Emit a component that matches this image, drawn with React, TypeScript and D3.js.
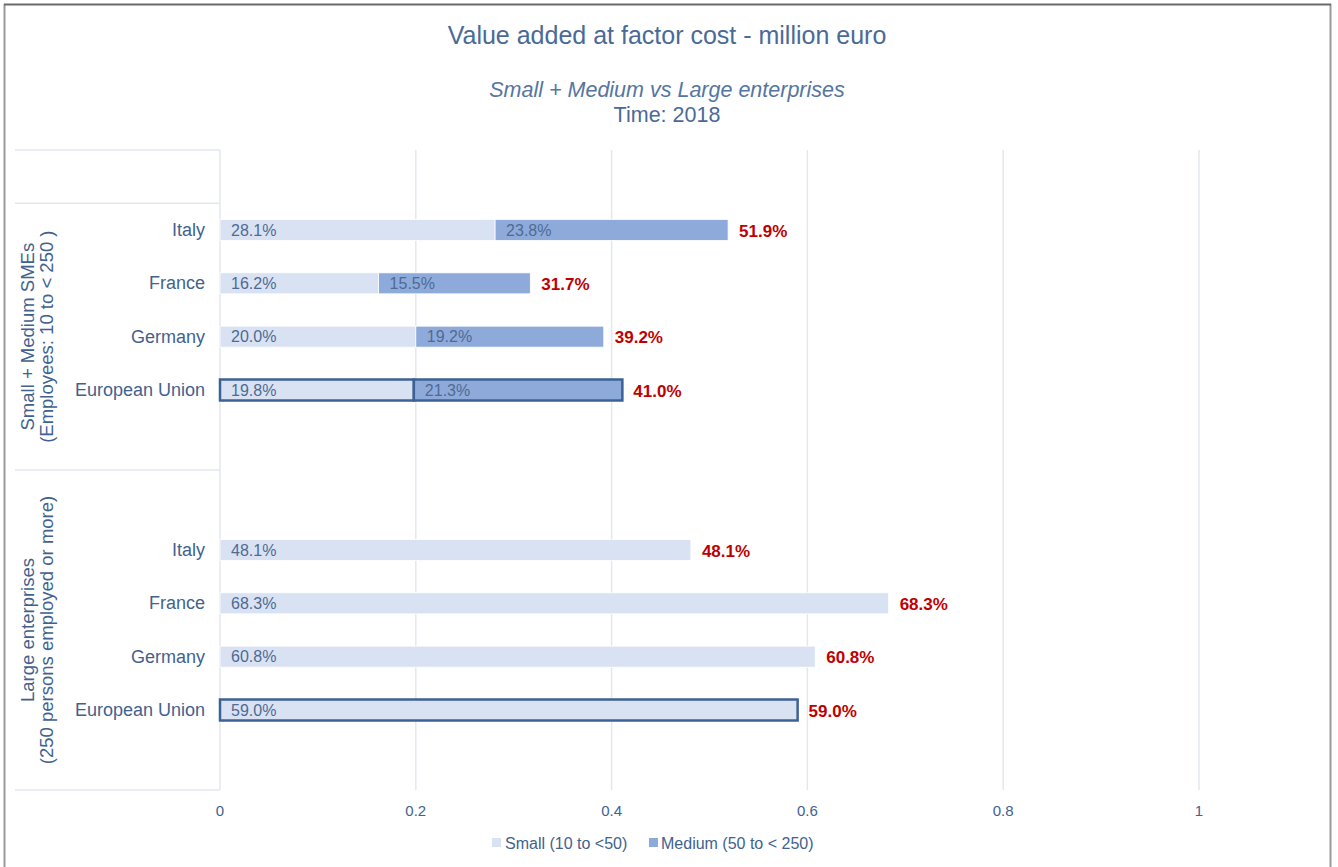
import React from "react";
import * as d3 from "d3";

const titleText = "Value added at factor cost - million euro";
const subtitleText = "Small + Medium vs Large enterprises";
const timeText = "Time: 2018";

const groupLabels: string[][] = [
  ["Small + Medium SMEs", "(Employees: 10 to < 250 )"],
  ["Large enterprises", "(250 persons employed or more)"],
];
const smeCountries = ["Italy", "France", "Germany", "European Union"];
const smeSmall = [0.281, 0.162, 0.2, 0.198];
const smeMedium = [0.238, 0.155, 0.192, 0.213];
const smeTotal = [0.519, 0.317, 0.392, 0.41];
const largeCountries = ["Italy", "France", "Germany", "European Union"];
const largeValues = [0.481, 0.683, 0.608, 0.59];
const xTicks = [0, 0.2, 0.4, 0.6, 0.8, 1];
const legendItems = ["Small (10 to <50)", "Medium (50 to < 250)"];

const COL_SMALL = "#d9e2f3";
const COL_MED = "#8eaadb";
const COL_TEXT = "#41628f";
const COL_RED = "#c00000";
const COL_GRID = "#e3e7ef";
const COL_EU = "#3e6195";
const FONT = "'Liberation Sans', Arial, sans-serif";

// row slots (including empty padding rows, as in the original grouped axis)
const slots = [
  "pad0",
  ...smeCountries.map((_, i) => "sme" + i),
  "pad1",
  "pad2",
  ...largeCountries.map((_, i) => "large" + i),
  "pad3",
];

export default function App() {
  const W = 1338, H = 867;
  const x = d3.scaleLinear().domain([0, 1]).range([220, 1199]);
  const y = d3.scaleBand<string>().domain(slots).range([150, 790]).paddingInner(0);
  const bw = y.bandwidth();
  const barH = 21;
  const fmt = (v: number) => (v * 100).toFixed(1) + "%";

  const groupSpans = [
    { start: y("sme0")!, end: y("pad2")!, lines: groupLabels[0] },
    { start: y("pad2")!, end: y("pad3")! + bw, lines: groupLabels[1] },
  ];

  type Row = { key: string; name: string; segs: { x0: number; x1: number; color: string; v: number }[]; total: number; eu: boolean };
  const rows: Row[] = [];
  smeCountries.forEach((c, i) => {
    rows.push({
      key: "sme" + i,
      name: c,
      segs: [
        { x0: 0, x1: smeSmall[i], color: COL_SMALL, v: smeSmall[i] },
        { x0: smeSmall[i], x1: smeSmall[i] + smeMedium[i], color: COL_MED, v: smeMedium[i] },
      ],
      total: smeTotal[i],
      eu: c === "European Union",
    });
  });
  largeCountries.forEach((c, i) => {
    rows.push({
      key: "large" + i,
      name: c,
      segs: [{ x0: 0, x1: largeValues[i], color: COL_SMALL, v: largeValues[i] }],
      total: largeValues[i],
      eu: c === "European Union",
    });
  });

  const tableLines = [y("pad0")!, y("sme0")!, y("pad2")!, y("pad3")! + bw];

  return (
    <svg width={W} height={H} style={{ position: "absolute", left: 0, top: 0, background: "#fff" }} fontFamily={FONT}>
      <rect x={0} y={0} width={W} height={H} fill="#fff" />
      {/* frame */}
      <line x1={4.5} y1={4} x2={4.5} y2={H} stroke="#9a9a9a" strokeWidth={2} />
      <line x1={1330.5} y1={4} x2={1330.5} y2={H} stroke="#9a9a9a" strokeWidth={2} />
      <line x1={4} y1={4.5} x2={1331} y2={4.5} stroke="#6a6a6a" strokeWidth={2} />

      {/* titles */}
      <text x={667} y={35} textAnchor="middle" dominantBaseline="central" fontSize={25} fill="#4a6a98">{titleText}</text>
      <text x={667} y={90} textAnchor="middle" dominantBaseline="central" fontSize={21.5} fontStyle="italic" fill="#5575a3">{subtitleText}</text>
      <text x={667} y={115} textAnchor="middle" dominantBaseline="central" fontSize={21.5} fill="#4a6a98">{timeText}</text>

      {/* gridlines */}
      {xTicks.map((t) => (
        <line key={"g" + t} x1={x(t)} x2={x(t)} y1={150} y2={790} stroke={COL_GRID} strokeWidth={1.5} />
      ))}
      {/* table lines */}
      {tableLines.map((ly, i) => (
        <line key={"tl" + i} x1={15} x2={x(0)} y1={ly} y2={ly} stroke={COL_GRID} strokeWidth={1.5} />
      ))}

      {/* group labels */}
      {groupSpans.map((g, i) => {
        const cy = (g.start + g.end) / 2;
        return (
          <g key={"grp" + i}>
            <text transform={`translate(34,${cy}) rotate(-90)`} textAnchor="middle" fontSize={18.5} fill={COL_TEXT}>{g.lines[0]}</text>
            <text transform={`translate(53,${cy}) rotate(-90)`} textAnchor="middle" fontSize={18.5} fill={COL_TEXT}>{g.lines[1]}</text>
          </g>
        );
      })}

      {/* rows */}
      {rows.map((r) => {
        const cy = y(r.key)! + bw / 2;
        const end = r.segs[r.segs.length - 1].x1;
        return (
          <g key={r.key}>
            <text x={205} y={cy} textAnchor="end" dominantBaseline="central" fontSize={18} fill={COL_TEXT}>{r.name}</text>
            {r.segs.map((s, j) => (
              <rect key={j} x={x(s.x0)} y={cy - barH / 2} width={x(s.x1) - x(s.x0)} height={barH} fill={s.color}
                stroke={r.eu ? COL_EU : "#ffffff"} strokeWidth={r.eu ? 2.5 : 0.8} />
            ))}
            {r.segs.map((s, j) => (
              <text key={"t" + j} x={x(s.x0) + 11} y={cy} dominantBaseline="central" fontSize={16} fill="#4f6a93">{fmt(s.v)}</text>
            ))}
            <text x={x(end) + 11} y={cy + 1} dominantBaseline="central" fontSize={17} fontWeight="bold" fill={COL_RED}>{fmt(r.total)}</text>
          </g>
        );
      })}

      {/* x tick labels */}
      {xTicks.map((t) => (
        <text key={"xt" + t} x={x(t)} y={810} textAnchor="middle" dominantBaseline="central" fontSize={15} fill={COL_TEXT}>{d3.format("~g")(t)}</text>
      ))}

      {/* legend */}
      <g>
        <rect x={492} y={838} width={9} height={9} fill={COL_SMALL} />
        <text x={505} y={843} dominantBaseline="central" fontSize={16} fill={COL_TEXT}>{legendItems[0]}</text>
        <rect x={649} y={838} width={9} height={9} fill={COL_MED} />
        <text x={661} y={843} dominantBaseline="central" fontSize={16} fill={COL_TEXT}>{legendItems[1]}</text>
      </g>
    </svg>
  );
}
